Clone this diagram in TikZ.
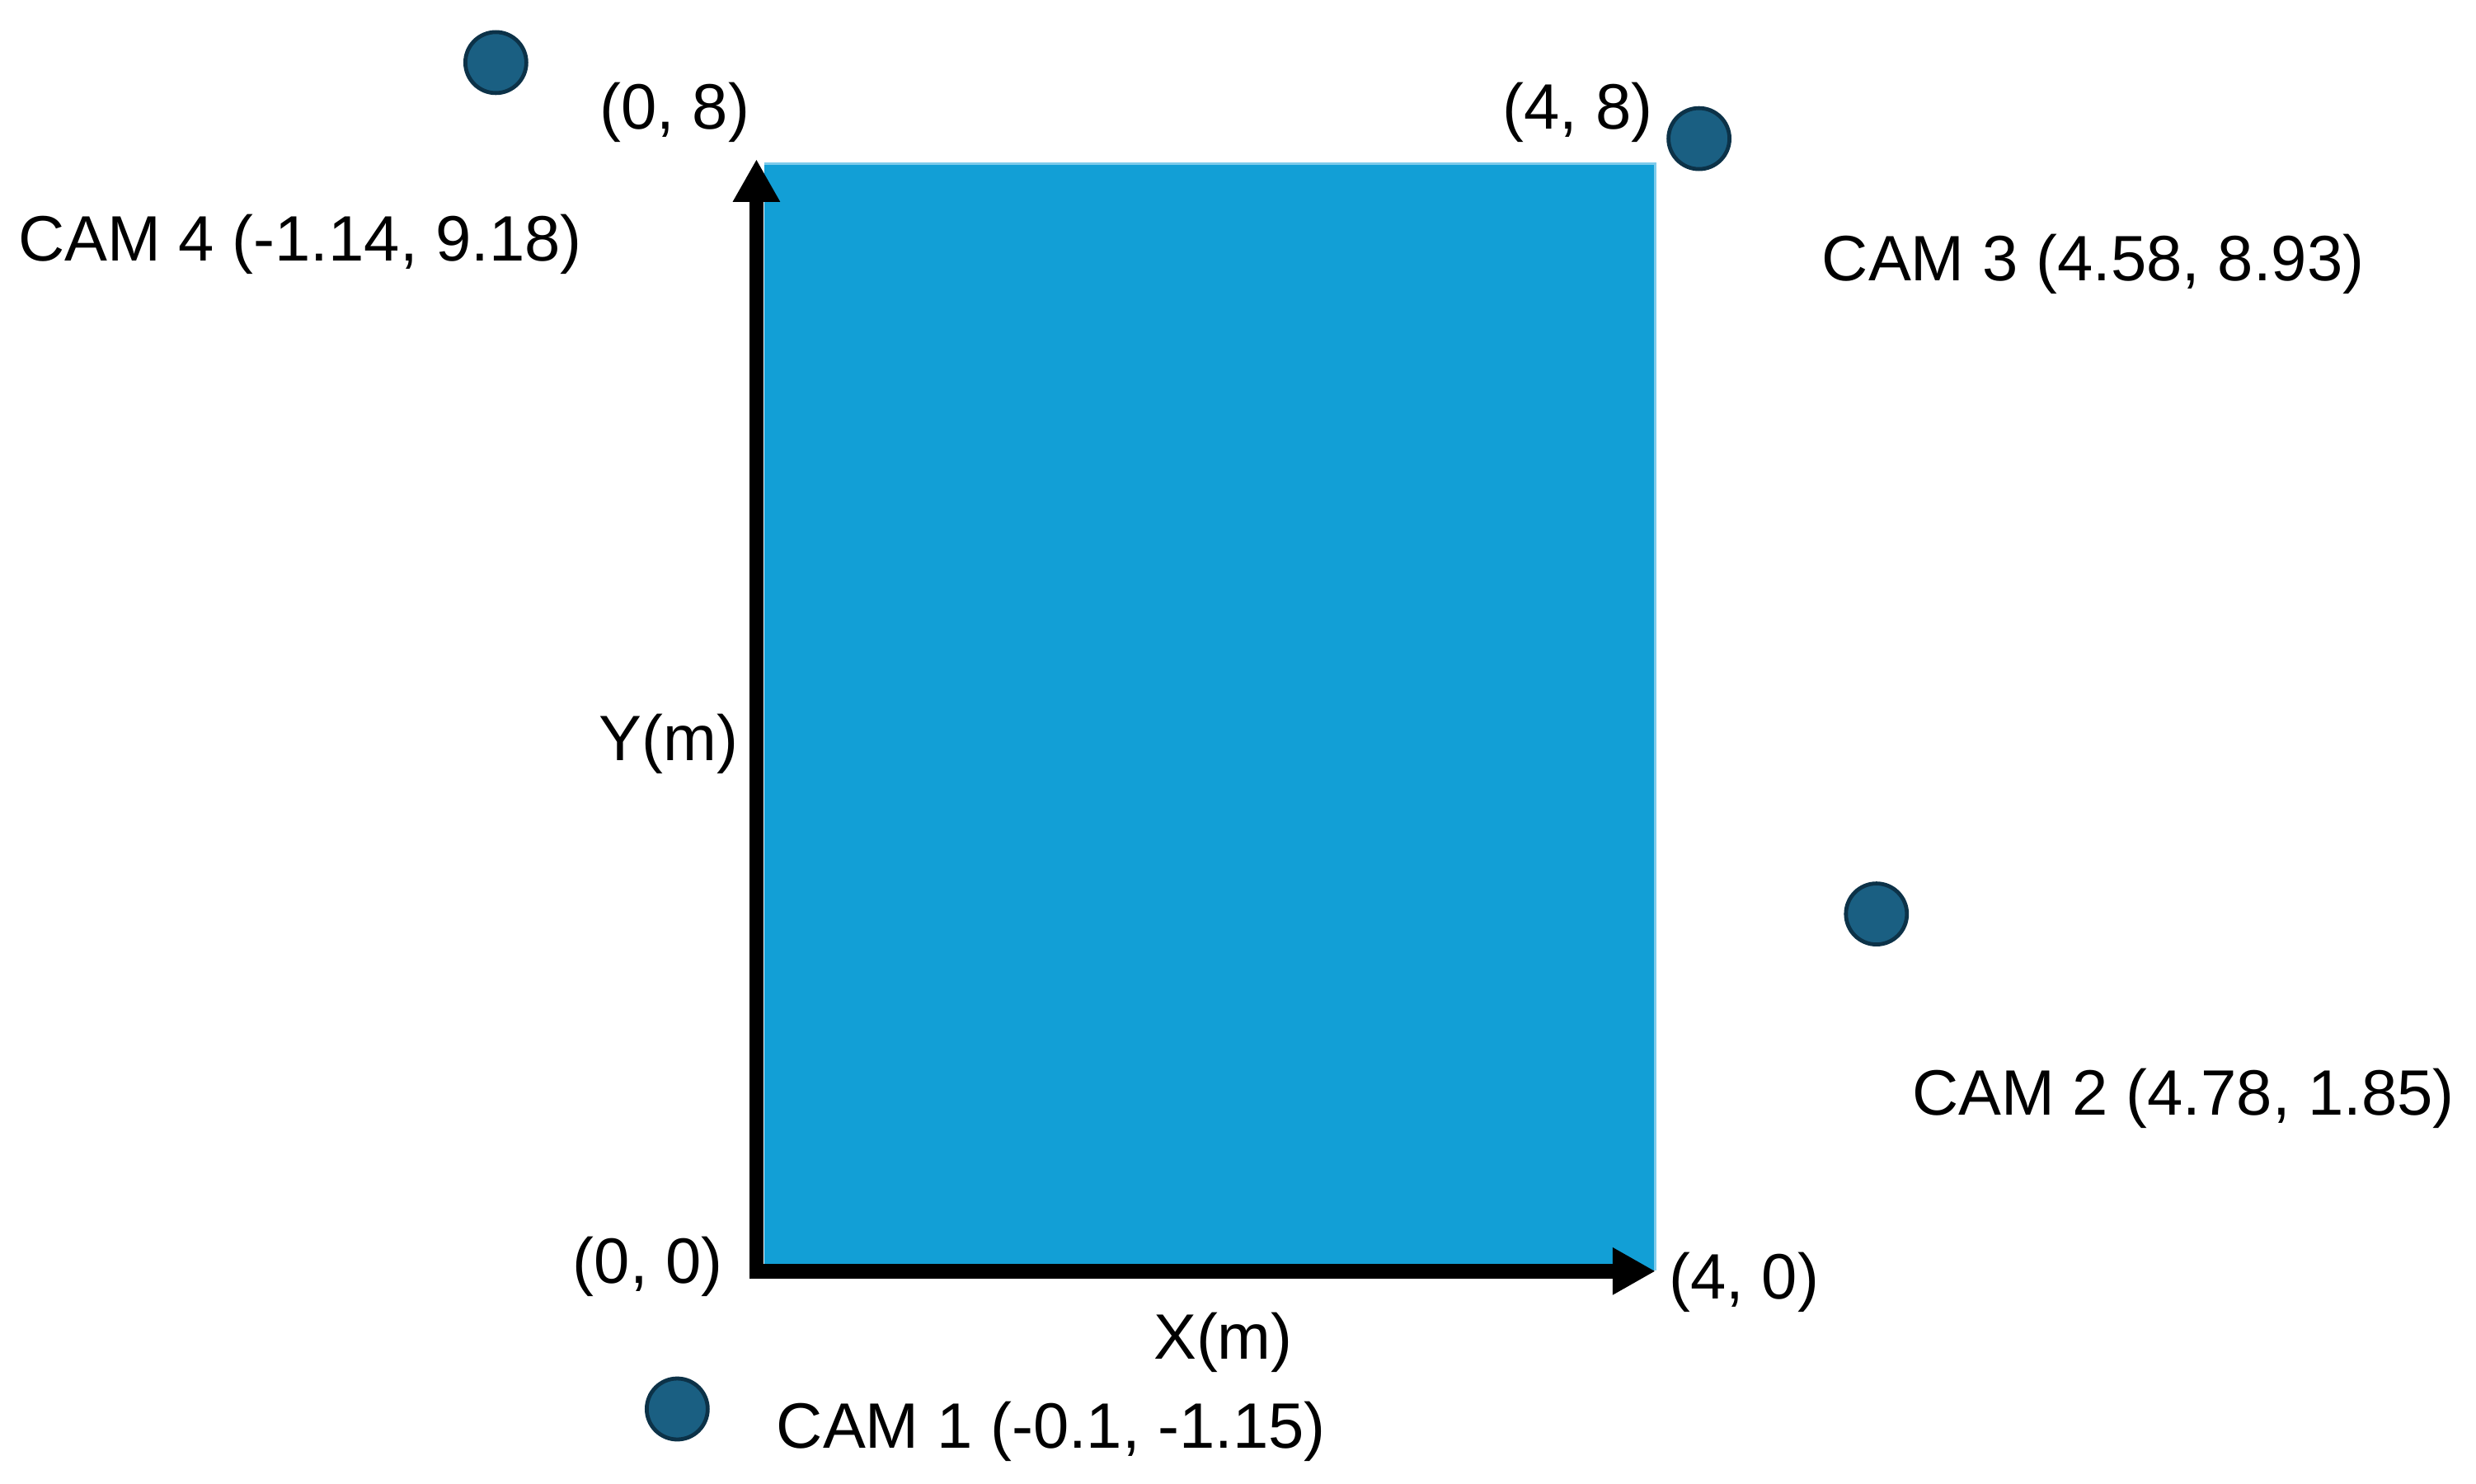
\documentclass[tikz,border=0pt]{standalone}
\usepackage{fontspec}
\setmainfont{Liberation Sans}
\usepackage{xcolor}
\usetikzlibrary{arrows.meta}
\usetikzlibrary{positioning}
\definecolor{floorblue}{RGB}{18,159,214}
\definecolor{floorrim}{RGB}{125,203,236}
\definecolor{camfill}{RGB}{26,95,130}
\definecolor{camrim}{RGB}{12,50,72}
\tikzstyle{camdot}=[circle,fill=camfill,draw=camrim,line width=2.5pt,minimum size=38.5pt,inner sep=0pt]
\tikzstyle{axisarrow}=[draw,black,line width=9pt,-{Triangle[length=27pt,width=28pt]}]
\tikzstyle{coordtext}=[anchor=base west,inner sep=0pt]

\begin{document}
\begin{tikzpicture}[x=1pt,y=-1pt,font=\fontsize{40.5}{48}\selectfont]
    \useasboundingbox (0,0) rectangle (1563,936.4);

    % floor area
    \fill[floorblue] (482.5,103) rectangle (1045,802);
    \draw[floorrim,line width=1.5pt] (482.5,103.5) -- (1045,103.5) -- (1045,802);

    % axes
    \coordinate (ybase) at (477.5,807);
    \coordinate (ytop) at (477.5,100.5);
    \coordinate (xbase) at (473,802.5);
    \coordinate (xend) at (1045,802.5);
    \path[axisarrow] (ybase) -- (ytop);
    \path[axisarrow] (xbase) -- (xend);

    % cameras
    \foreach \pos/ \name in {{(427.5,889.5)/cam1}, {(1184.5,577)/cam2}, {(1072.5,87.5)/cam3}, {(313,39.5)/cam4}}
        \node[camdot] (\name) at \pos {};

    % corner and camera labels
    \foreach \pos/ \name/ \txt in {{(11.5,164.8)/tcam4/{CAM 4 (-1.14, 9.18)}}, {(378.5,81.5)/tc08/{(0, 8)}}, {(948.5,81.5)/tc48/{(4, 8)}},
        {(1150,177)/tcam3/{CAM 3 (4.58, 8.93)}}, {(378,480)/tym/{Y(m)}}, {(1207,704)/tcam2/{CAM 2 (4.78, 1.85)}},
        {(361.5,810)/tc00/{(0, 0)}}, {(1053.5,820)/tc40/{(4, 0)}}, {(728,858)/txm/{X(m)}}, {(490,914)/tcam1/{CAM 1 (-0.1, -1.15)}}}
        \node[coordtext] (\name) at \pos {\txt};

\end{tikzpicture}
\end{document}
